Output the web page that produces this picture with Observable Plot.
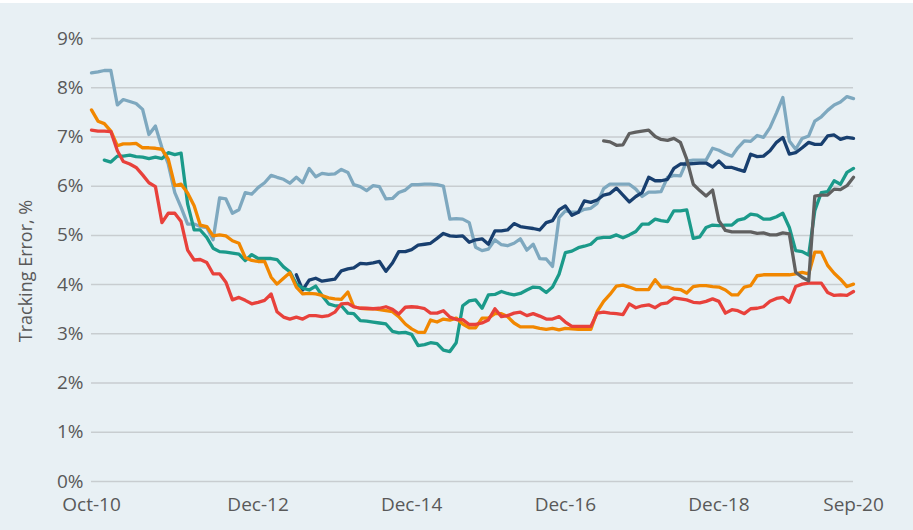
<!DOCTYPE html>
<html><head><meta charset="utf-8">
<script src="https://cdn.jsdelivr.net/npm/d3@7"></script>
<script src="https://cdn.jsdelivr.net/npm/@observablehq/plot@0.6"></script>
<style>
html,body{margin:0;padding:0;background:#ffffff;}
#chart{width:913px;height:527px;margin-top:3px;background:#e8f0f4;}
</style></head><body><div id="chart"></div>
<script>
// Monthly observations, Oct-2010 .. Sep-2020
const firstMonth = new Date(Date.UTC(2010, 9, 1));
const lastMonth = new Date(Date.UTC(2020, 8, 1));

const yTicks = [0, 1, 2, 3, 4, 5, 6, 7, 8, 9];
const xTickLabels = ["2010-10", "2012-12", "2014-12", "2016-12", "2018-12", "2020-09"];
const yTitle = "Tracking Error, %";

const seriesNames = ["S1", "S2", "S3", "S4", "S5", "S6"];
const seriesColors = ["#7ea8bf", "#183f6f", "#1b9a8a", "#f18700", "#e8413b", "#606060"];
const seriesStart = ["2010-10", "2013-06", "2010-12", "2010-10", "2010-10", "2017-06"];

const lightblue = [
 8.30, 8.32, 8.35, 8.35, 7.65, 7.76, 7.72, 7.68, 7.56, 7.05,
 7.22, 6.78, 6.45, 5.87, 5.57, 5.23, 5.23, 5.18, 5.16, 4.91,
 5.76, 5.74, 5.45, 5.52, 5.87, 5.84, 5.97, 6.07, 6.22, 6.18,
 6.14, 6.06, 6.18, 6.07, 6.36, 6.19, 6.26, 6.24, 6.25, 6.34,
 6.28, 6.03, 5.99, 5.91, 6.01, 5.99, 5.74, 5.75, 5.87, 5.92,
 6.03, 6.03, 6.04, 6.04, 6.03, 6.00, 5.33, 5.34, 5.33, 5.26,
 4.76, 4.69, 4.72, 4.91, 4.81, 4.79, 4.84, 4.93, 4.70, 4.82,
 4.53, 4.52, 4.37, 5.36, 5.50, 5.47, 5.47, 5.53, 5.55, 5.65,
 5.95, 6.04, 6.04, 6.04, 6.04, 5.94, 5.79, 5.88, 5.88, 5.89,
 6.18, 6.22, 6.21, 6.51, 6.53, 6.53, 6.53, 6.77, 6.73, 6.66,
 6.61, 6.78, 6.92, 6.91, 7.03, 6.99, 7.19, 7.49, 7.80, 6.92,
 6.75, 6.97, 7.02, 7.32, 7.41, 7.54, 7.65, 7.71, 7.82, 7.78
];
const navy = [
 4.20, 3.89, 4.09, 4.13, 4.07, 4.09, 4.11, 4.28,
 4.32, 4.34, 4.43, 4.42, 4.44, 4.47, 4.27, 4.44, 4.67, 4.67,
 4.71, 4.80, 4.82, 4.84, 4.94, 5.04, 4.99, 4.98, 4.99, 4.86,
 4.91, 4.93, 4.82, 5.09, 5.09, 5.11, 5.24, 5.18, 5.16, 5.14,
 5.11, 5.26, 5.30, 5.52, 5.60, 5.41, 5.47, 5.70, 5.67, 5.72,
 5.82, 5.85, 5.96, 5.82, 5.68, 5.79, 5.87, 6.18, 6.11, 6.11,
 6.14, 6.36, 6.45, 6.45, 6.46, 6.47, 6.47, 6.39, 6.51, 6.38,
 6.38, 6.34, 6.30, 6.65, 6.60, 6.61, 6.72, 6.89, 6.99, 6.65,
 6.68, 6.78, 6.89, 6.85, 6.85, 7.02, 7.04, 6.95, 6.99, 6.97
];
const teal = [
 6.53, 6.49, 6.61, 6.61, 6.63, 6.60, 6.59, 6.56,
 6.59, 6.56, 6.68, 6.64, 6.67, 5.64, 5.11, 5.11, 4.96, 4.74,
 4.67, 4.66, 4.64, 4.62, 4.49, 4.61, 4.53, 4.53, 4.53, 4.51,
 4.36, 4.26, 4.01, 3.93, 3.89, 3.97, 3.78, 3.61, 3.57, 3.57,
 3.42, 3.41, 3.27, 3.26, 3.24, 3.22, 3.20, 3.05, 3.02, 3.03,
 2.99, 2.76, 2.78, 2.82, 2.80, 2.67, 2.64, 2.82, 3.57, 3.67,
 3.69, 3.52, 3.79, 3.80, 3.86, 3.82, 3.79, 3.82, 3.89, 3.95,
 3.94, 3.84, 3.95, 4.21, 4.65, 4.68, 4.75, 4.78, 4.82, 4.94,
 4.96, 4.96, 5.01, 4.95, 5.01, 5.08, 5.23, 5.23, 5.33, 5.30,
 5.28, 5.50, 5.50, 5.52, 4.94, 4.97, 5.16, 5.21, 5.20, 5.21,
 5.21, 5.31, 5.34, 5.43, 5.41, 5.33, 5.33, 5.38, 5.45, 5.16,
 4.69, 4.67, 4.60, 5.50, 5.87, 5.89, 6.11, 6.04, 6.28, 6.36
];
const orange = [
 7.55, 7.32, 7.27, 7.12, 6.82, 6.86, 6.86, 6.87, 6.78, 6.78,
 6.77, 6.75, 6.55, 6.01, 6.04, 5.86, 5.60, 5.21, 5.18, 4.99,
 5.01, 4.99, 4.89, 4.84, 4.55, 4.49, 4.47, 4.47, 4.15, 4.01,
 4.13, 4.24, 3.95, 3.81, 3.82, 3.81, 3.78, 3.73, 3.71, 3.70,
 3.85, 3.55, 3.52, 3.51, 3.51, 3.49, 3.47, 3.45, 3.35, 3.20,
 3.10, 3.03, 3.03, 3.28, 3.24, 3.30, 3.28, 3.32, 3.20, 3.12,
 3.12, 3.32, 3.32, 3.41, 3.41, 3.35, 3.22, 3.14, 3.14, 3.14,
 3.11, 3.09, 3.11, 3.08, 3.11, 3.10, 3.09, 3.09, 3.09, 3.45,
 3.66, 3.80, 3.97, 3.99, 3.95, 3.90, 3.90, 3.90, 4.10, 3.95,
 3.95, 3.91, 3.90, 3.83, 3.96, 3.98, 3.98, 3.96, 3.95, 3.89,
 3.79, 3.79, 3.95, 3.98, 4.18, 4.20, 4.20, 4.20, 4.20, 4.20,
 4.22, 4.25, 4.22, 4.66, 4.66, 4.39, 4.23, 4.11, 3.96, 4.01
];
const red = [
 7.14, 7.12, 7.12, 7.11, 6.72, 6.50, 6.45, 6.38, 6.23, 6.07,
 5.99, 5.26, 5.45, 5.45, 5.28, 4.70, 4.50, 4.51, 4.45, 4.22,
 4.22, 4.05, 3.69, 3.74, 3.68, 3.61, 3.64, 3.68, 3.81, 3.45,
 3.34, 3.30, 3.34, 3.30, 3.37, 3.37, 3.35, 3.37, 3.44, 3.61,
 3.62, 3.55, 3.52, 3.52, 3.51, 3.52, 3.55, 3.50, 3.40, 3.54,
 3.55, 3.54, 3.51, 3.42, 3.42, 3.47, 3.34, 3.29, 3.29, 3.19,
 3.19, 3.22, 3.28, 3.51, 3.35, 3.37, 3.42, 3.44, 3.37, 3.41,
 3.36, 3.30, 3.30, 3.35, 3.24, 3.15, 3.15, 3.15, 3.15, 3.42,
 3.44, 3.42, 3.41, 3.39, 3.61, 3.53, 3.57, 3.59, 3.53, 3.61,
 3.63, 3.73, 3.71, 3.69, 3.64, 3.63, 3.66, 3.71, 3.66, 3.42,
 3.49, 3.47, 3.41, 3.51, 3.52, 3.55, 3.66, 3.72, 3.74, 3.64,
 3.96, 4.01, 4.03, 4.03, 4.03, 3.84, 3.78, 3.79, 3.78, 3.86
];
const gray = [
 6.92, 6.90, 6.83, 6.84, 7.07, 7.10, 7.12, 7.14, 7.01, 6.95,
 6.93, 6.97, 6.89, 6.55, 6.04, 5.91, 5.80, 5.92, 5.30, 5.10,
 5.07, 5.07, 5.07, 5.07, 5.04, 5.05, 5.01, 5.01, 5.05, 5.03,
 4.25, 4.15, 4.08, 5.80, 5.82, 5.82, 5.94, 5.93, 6.01, 6.18
];

const seriesValues = [lightblue, navy, teal, orange, red, gray];
const parseMonth = d3.utcParse("%Y-%m");

const seriesRows = seriesValues.map((vals, i) => {
  const start = parseMonth(seriesStart[i]);
  return vals.map((v, k) => ({date: d3.utcMonth.offset(start, k), value: v, series: seriesNames[i]}));
});

const chart = Plot.plot({
  width: 913,
  height: 527,
  marginLeft: 91,
  marginRight: 60,
  marginTop: 35,
  marginBottom: 49,
  style: {background: "transparent", fontFamily: "'Open Sans', sans-serif", fontSize: "19px", color: "#595959"},
  x: {type: "utc", domain: [firstMonth, lastMonth]},
  y: {domain: [0, 9]},
  color: {domain: seriesNames, range: seriesColors},
  marks: [
    Plot.gridY(yTicks, {stroke: "#c8cdd0", strokeOpacity: 1, strokeWidth: 1.5}),
    Plot.axisY(yTicks, {tickSize: 0, tickPadding: 8, tickFormat: d => d + "%", label: null, fill: "#595959"}),
    Plot.axisX(xTickLabels.map(parseMonth), {tickSize: 0, tickPadding: 16, tickFormat: d3.utcFormat("%b-%y"), label: null, fill: "#595959"}),
    ...seriesRows.map(rows => Plot.line(rows, {
      x: "date", y: "value", stroke: "series", strokeWidth: 3.3, strokeLinejoin: "round", strokeLinecap: "round"
    }))
  ]
});

d3.select(chart).append("text")
  .attr("transform", "translate(25,268) rotate(-90)")
  .attr("text-anchor", "middle")
  .attr("dominant-baseline", "central")
  .attr("fill", "#595959")
  .style("font-family", "'Open Sans', sans-serif")
  .style("font-size", "18px")
  .text(yTitle);

document.getElementById("chart").appendChild(chart);
</script></body></html>
